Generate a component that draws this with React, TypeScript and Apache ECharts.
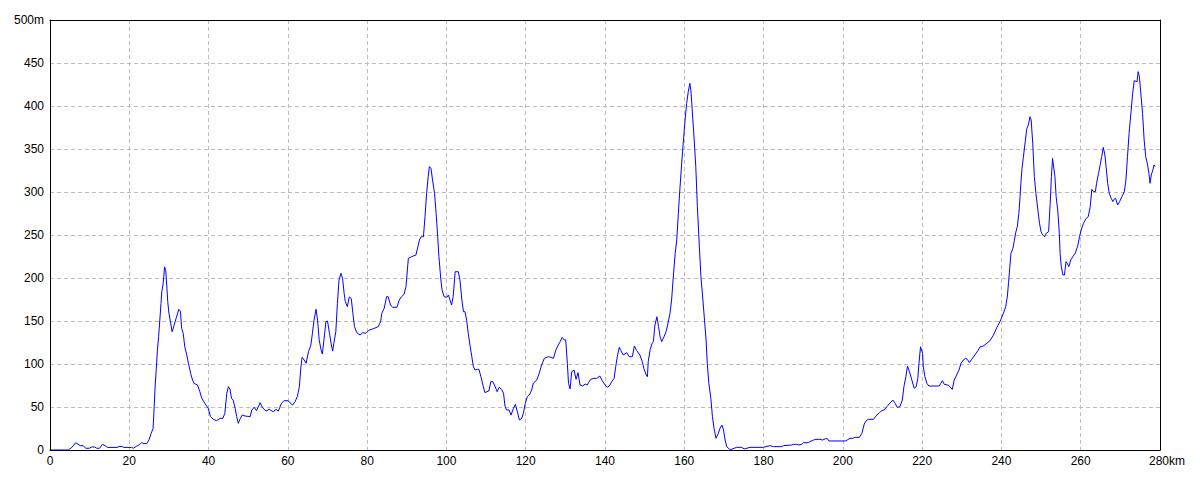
import React, { useEffect, useRef } from "react";
import * as echarts from "echarts";

const distanceKm: number[] = [
  0, 4.6, 5.5, 6.5, 7.6, 8.4, 9.0, 9.9, 10.5, 11.3, 11.8, 12.5, 13.2, 13.9, 14.5, 16.9, 17.4, 18.2, 18.6, 20.6,
  21.0, 21.9, 22.5, 23.1, 23.7, 24.4, 25.0, 25.5, 26.0, 26.2, 26.5, 26.8, 27.1, 27.4, 27.7, 28.0, 28.2, 28.5, 28.7, 28.9,
  29.2, 29.5, 29.7, 30.0, 30.4, 30.8, 31.3, 31.8, 32.5, 32.9, 33.2, 33.6, 34.0, 34.5, 34.9, 35.5,
  35.7, 36.3, 37.2, 37.8, 38.3, 39.1, 39.9, 40.5, 41.2, 42.0, 42.9, 43.6, 44.1, 44.6, 45.0, 45.4, 45.8, 46.2, 46.7, 47.1,
  47.5, 47.9, 48.5, 49.2, 50.5, 50.9, 51.5, 52.1, 53.0, 53.6, 54.5, 55.3, 56.3, 57.0, 57.6, 58.4, 59.0, 60.1, 60.5, 61.2,
  61.8, 62.4, 62.9, 63.3, 63.6, 64.1, 64.6, 65.2, 65.8, 66.2, 66.6, 67.1, 67.5, 67.9, 68.4, 68.7, 69.1, 69.6, 70.0, 70.5,
  70.9, 71.3, 71.6, 72.1, 72.5, 72.9, 73.4, 73.8, 74.2, 74.5, 75.0, 75.5, 76.0, 76.4, 76.8, 77.4, 78.2, 78.9, 79.7, 80.5,
  81.4, 82.8, 83.4,
  83.7, 84.3, 84.9, 85.3, 85.9, 86.4, 87.5, 88.1, 88.7, 89.3, 89.8, 90.4, 91.2, 92.3, 92.8, 93.2, 93.6, 94.2, 94.6, 95.0,
  95.4, 95.7, 96.1, 96.5, 97.0, 97.4, 97.8, 98.1, 98.6, 98.9, 99.4, 100.1, 100.5, 100.9, 101.3, 101.7, 102.2, 103.0, 103.4, 103.9,
  104.3, 104.7, 105.1, 105.5, 106.0, 106.4, 106.8, 107.2, 107.8, 108.2, 108.7, 109.2, 109.7, 110.2, 110.7, 111.2, 111.7, 112.3, 112.8, 113.3,
  113.9, 114.4, 114.8, 115.2, 115.8, 116.3, 116.9, 117.4, 117.9, 118.4, 119.0, 119.4, 119.9, 120.4, 120.9, 121.5, 121.9, 122.8, 123.4, 124.0,
  124.7, 125.7, 126.3, 127.0, 127.6, 128.2, 128.7, 129.2, 129.7, 130.1, 130.5, 130.8, 131.2,
  131.6, 132.2, 132.7, 133.2, 133.7, 134.3, 135.0, 135.5, 136.4, 137.2, 137.9, 138.7, 139.3, 140.0, 140.6, 141.1, 141.7, 142.3, 142.7, 143.1,
  143.6, 144.0, 144.6, 145.5, 146.1, 146.9, 147.4, 148.0, 148.8, 149.4, 149.8, 150.4, 150.7, 150.9, 151.4, 151.9, 152.2, 152.6, 153.1, 153.5,
  153.9, 154.3, 154.9, 155.4, 155.8, 156.4, 156.8, 157.2, 157.7, 158.1, 158.5, 158.9, 159.4, 159.8, 160.2, 160.6, 161.0, 161.4, 161.7, 162.0,
  162.5, 162.9, 163.3, 163.8, 164.2, 164.7, 165.1, 165.5, 165.8, 166.2, 166.7, 167.1, 167.5, 168.0, 168.6, 169.0, 169.5, 169.9, 170.3, 170.7,
  171.4, 171.9, 173.2, 174.5, 175.1, 176.6, 179.9,
  181.6, 182.5, 184.6, 185.0, 187.1, 187.5, 188.4, 188.8, 189.6, 190.0, 191.3, 191.7, 192.6, 193.2, 194.2, 194.9, 195.7, 196.1, 196.5, 200.6,
  201.1, 201.8, 202.5, 203.1, 204.2, 204.8, 205.4, 205.9, 206.4, 207.7, 208.6, 209.2, 209.8, 210.4, 211.1, 211.7, 212.6, 213.2, 213.7, 214.4,
  215.0, 215.4, 215.9, 216.3, 216.8, 217.4, 218.0, 218.5, 218.9, 219.2, 219.6, 220.1, 220.3, 220.7, 221.2, 221.7, 224.3, 224.7, 225.1, 225.6,
  226.5, 227.0, 227.6, 228.1, 228.7, 229.3, 229.8, 230.4, 231.0, 231.4, 231.9, 232.5, 233.3, 234.2, 234.6, 235.4, 236.3, 237.1, 238.0, 238.8,
  239.7, 240.5, 241.1, 241.5, 241.8, 242.1,
  242.4, 242.9, 243.2, 243.6, 244.0, 244.4, 244.7, 244.9, 245.2, 245.5, 246.0, 246.4, 246.8, 247.2, 247.5, 247.9, 248.3, 248.7, 249.2, 249.6,
  250.0, 250.4, 250.9, 251.3, 251.9, 252.3, 252.6, 252.9, 253.1, 253.5, 253.8, 254.2, 254.6, 254.8, 255.1, 255.5, 255.9, 256.3, 256.6, 257.0,
  257.5, 258.0, 258.6, 259.2, 259.7, 260.1, 260.7, 261.4, 261.9, 262.4, 262.8, 263.2, 263.7, 264.0, 264.5, 264.9, 265.3, 265.7, 266.1, 266.4,
  266.8, 267.2, 267.7, 268.1, 268.4, 268.8, 269.3, 269.8, 270.4, 271.0, 271.4, 271.8, 272.2, 272.7, 273.1, 273.5, 274.2, 274.5, 274.8, 275.2,
  275.6, 276.0, 276.4, 276.8, 277.2, 277.5, 277.8, 278.2, 278.5, 278.8,
];

const elevationM: number[] = [
  0, 0, 3, 8.5, 5, 5, 2, 2, 3.5, 3.5, 2, 2, 6.6, 5, 3, 3, 4, 4, 3, 3,
  2, 4.5, 6, 8.5, 7.5, 7.5, 12, 19, 25, 42.6, 72, 94, 116, 132, 151, 170.5, 184, 192, 201.5, 213,
  208.5, 188, 172.5, 159, 149, 137.5, 145, 153, 163.5, 161.5, 141.5, 135.6, 120, 110.5, 101, 89,
  85, 77.5, 75.6, 67.8, 60, 54, 48.5, 38.8, 35.7, 34.1, 36.8, 36.8, 42.6, 66, 73.6, 70.5, 60, 58, 48.4, 38.8,
  31, 35.7, 40.7, 39.5, 38.8, 46.5, 49.6, 45.7, 55, 49.2, 45.3, 47.3, 44.5, 47.3, 45.3, 54.3, 57.3, 57.3, 55, 52.3,
  56.2, 62, 73.6, 96.9, 107.8, 104.7, 100.8, 114.3, 122, 135.7, 151, 163.6, 151, 128, 116, 111.6, 128, 149, 150, 135.7,
  124, 115, 124, 137.6, 170.6, 197.7, 205.4, 199.6, 182, 172.5, 166.7, 178, 176, 159, 143.4, 136.4, 133.7, 136.4, 135.7, 139.5,
  140.7, 143.4, 149.2,
  159, 164.7, 178.3, 178.3, 168.6, 165.9, 165.9, 174.4, 178.3, 181, 190, 223, 224.8, 226.7, 236.4, 244.2, 248, 248, 271.3, 298.5,
  317.8, 329.5, 327.5, 314, 298.5, 275.2, 248, 224.8, 197.7, 186, 178.3, 177.5, 180.2, 174.4, 168.6, 178.3, 207.3, 207.3, 197.7, 174.4,
  160.8, 160.8, 151, 135.7, 120, 108.5, 96.9, 93, 93.8, 93.8, 85.2, 75.6, 66.7, 67.8, 68.6, 79.5, 79.5, 73.6, 67.8, 72.9,
  70.5, 66, 50.4, 46.5, 46.5, 40.7, 48.4, 53.1, 44.5, 34.9, 36.8, 42.6, 54.3, 62, 64, 69.8, 77.5, 81.4, 89.1, 98.8,
  106.6, 108.5, 107.8, 106.6, 116.3, 122, 126, 131, 128, 128, 100.8, 77.5, 71,
  91, 93, 82.2, 89.9, 75.6, 74.4, 76.7, 75.6, 82.2, 83.3, 83.3, 86, 80.6, 75.6, 72.9, 74.4, 79.5, 83.3, 96.9, 108.5,
  119.4, 115.5, 110.5, 113.2, 108.5, 108.5, 121, 115.5, 110.5, 102.7, 95, 87.2, 85.2, 102.7, 117, 124, 126, 145.3, 155, 143.4,
  131.7, 126, 131.7, 137.6, 145.3, 159, 174.4, 199.6, 228.7, 244.2, 275.2, 304.3, 337.2, 360.5, 383.7, 403.1, 416.6, 426.4, 416.6, 395.3,
  360.5, 329.5, 283, 236.4, 201.5, 174.4, 151, 128, 100.8, 77.5, 60, 38.8, 25.2, 13.6, 19.4, 25.2, 29, 23.3, 11.6, 3.9,
  0.8, 0.8, 3.1, 3.1, 1.2, 3.1, 3.1,
  5, 3.9, 3.9, 5, 5.8, 6.6, 6.6, 5.8, 6.6, 8.5, 8.5, 9.7, 11.6, 12.4, 12.4, 11.6, 13.2, 13.2, 10.5, 10.5,
  11.6, 13.6, 13.6, 14.7, 14.7, 19.4, 30.2, 34.1, 35.7, 35.7, 40.7, 43.4, 45.7, 46.5, 50.4, 53.5, 58.1, 54.3, 49.6, 50.4,
  58.1, 73.6, 85.2, 97.7, 91, 81.4, 71.7, 73.6, 83.3, 100.8, 120, 112.4, 96.9, 85.2, 77.5, 74.4, 74.4, 77.5, 80.6, 76.3,
  75.6, 73.6, 70.5, 81.4, 87.2, 93, 100.8, 104.7, 106.6, 105.4, 101.6, 105.4, 110.5, 116.3, 120, 120.9, 124, 127.1, 133.7, 142,
  150, 159, 167, 179, 195, 212,
  228.7, 234.5, 242.2, 252.7, 259.7, 275.2, 294.6, 310.1, 327.5, 339.1, 358.5, 374, 377.9, 387.6, 383.7, 356.6, 317.8, 298.5, 279.1, 263.6,
  253.8, 250, 248, 252, 253.8, 286.9, 317.8, 339.1, 331.4, 317.8, 294.6, 279.1, 252, 228.7, 213.2, 203.5, 203.5, 219, 217.1, 213.2,
  221, 224.8, 228.7, 236.4, 248, 255.8, 263.6, 269.4, 271.3, 283, 303.1, 300.4, 300.4, 310.1, 321.7, 331.4, 341.1, 351.9, 343, 329.5,
  310.1, 298.5, 292.6, 288.8, 291.5, 292.6, 284.9, 288.8, 294.6, 300.4, 314, 341.1, 368.2, 393.4, 414.7, 429.4, 428.3, 440, 434.2, 412.8,
  391.4, 360.5, 341.1, 333.3, 321.7, 310.1, 319.8, 325.6, 331.4, 329.5,
];

const xMax = 280;
const yMax = 500;

export default function App() {
  const ref = useRef<HTMLDivElement>(null);

  useEffect(() => {
    if (!ref.current) return;
    const chart = echarts.init(ref.current, undefined, { renderer: "svg" });
    const data = distanceKm.map((d, i) => [d, elevationM[i]]);
    const font = "'Liberation Sans', Arial, sans-serif";
    const gridLine = { show: true, showMinLine: false, showMaxLine: false, lineStyle: { color: "#bdbdbd", type: [4, 3], width: 1 } };
    chart.setOption({
      animation: false,
      backgroundColor: "#ffffff",
      grid: { left: 50, right: 40, top: 20, bottom: 30, containLabel: false },
      xAxis: [
        {
          type: "value",
          min: 0,
          max: xMax,
          interval: 20,
          axisLine: { show: true, onZero: false, lineStyle: { color: "#000", width: 1 } },
          axisTick: { show: false },
          splitLine: gridLine,
          axisLabel: {
            color: "#000",
            fontSize: 12,
            fontFamily: font,
            margin: 5,
            formatter: (v: number) => (v === xMax ? "{a|" + v + "}{b|km}" : String(v)),
            rich: {
              a: { color: "#000", fontSize: 12, fontFamily: font, padding: [0, 0, 0, 14] },
              b: { color: "#000", fontSize: 12, fontFamily: font },
            },
          },
        },
        {
          type: "value",
          position: "top",
          min: 0,
          max: xMax,
          interval: 20,
          axisLine: { show: true, onZero: false, lineStyle: { color: "#000", width: 1 } },
          axisTick: { show: false },
          axisLabel: { show: false },
          splitLine: { show: false },
        },
      ],
      yAxis: [
        {
          type: "value",
          min: 0,
          max: yMax,
          interval: 50,
          axisLine: { show: true, onZero: false, lineStyle: { color: "#000", width: 1 } },
          axisTick: { show: false },
          splitLine: gridLine,
          axisLabel: {
            color: "#000",
            fontSize: 12,
            fontFamily: font,
            margin: 6,
            formatter: (v: number) => (v === yMax ? v + "m" : String(v)),
          },
        },
        {
          type: "value",
          position: "right",
          min: 0,
          max: yMax,
          interval: 50,
          axisLine: { show: true, onZero: false, lineStyle: { color: "#000", width: 1 } },
          axisTick: { show: false },
          axisLabel: { show: false },
          splitLine: { show: false },
        },
      ],
      series: [
        {
          type: "line",
          data,
          xAxisIndex: 0,
          yAxisIndex: 0,
          showSymbol: false,
          symbol: "none",
          smooth: false,
          lineStyle: { color: "#0000ff", width: 1 },
          z: 5,
        },
      ],
    });
    return () => chart.dispose();
  }, []);

  return (
    <div
      ref={ref}
      style={{ position: "fixed", left: 0, top: 0, width: 1200, height: 480, background: "#fff" }}
    />
  );
}
